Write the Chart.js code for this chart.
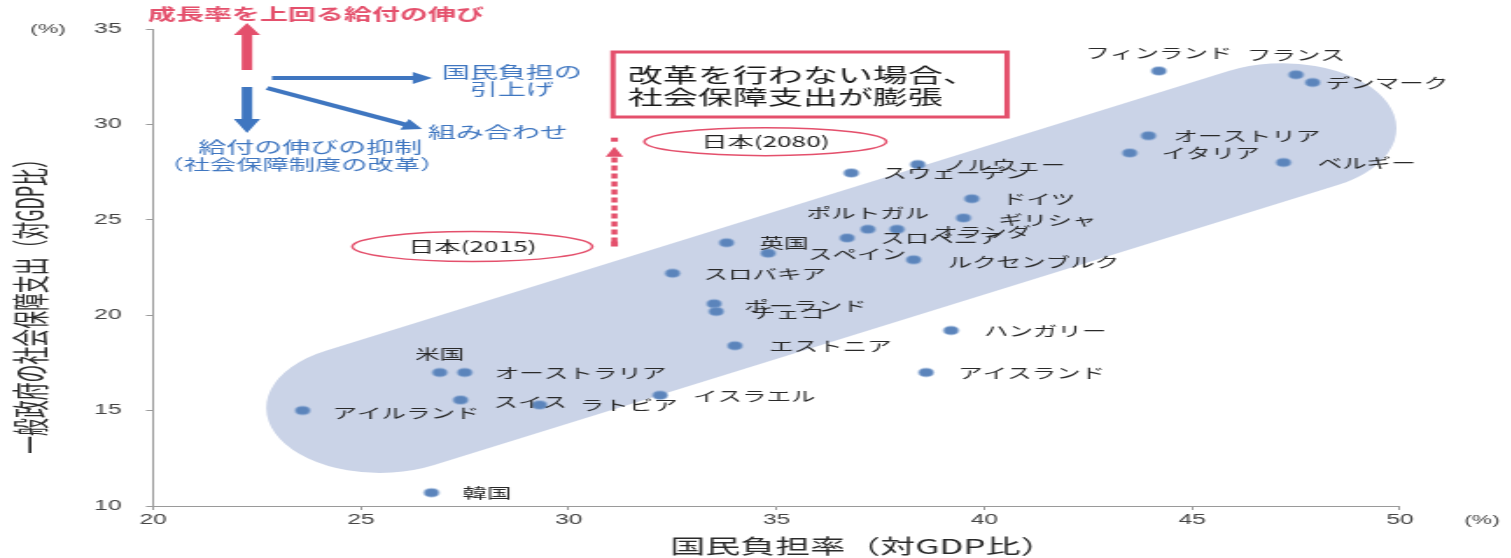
<!DOCTYPE html>
<html lang="ja">

<head>
    <meta charset="UTF-8">
    <title>国民負担率と社会保障支出</title>
    <script src="https://cdn.jsdelivr.net/npm/chart.js@4.4.0/dist/chart.umd.min.js"></script>
</head>

<style>
    body {
        margin: 0;
        background: #fff;
        overflow: hidden;
    }

    #contenedor {
        height: 558px;
        transform-origin: 0 0;
    }
</style>

<body>
    <div id="contenedor"><canvas id="grafico"></canvas></div>

    <script>
// Datos (x: 国民負担率, y: 社会保障支出, 対GDP比 %)
const paises = ['フィンランド', 'フランス', 'デンマーク', 'オーストリア', 'イタリア', 'ベルギー',
    'ノルウェー', 'スウェーデン', 'ドイツ', 'ギリシャ', 'オランダ', 'ポルトガル', 'スロベニア',
    '英国', 'スペイン', 'ルクセンブルク', 'スロバキア', 'ポーランド', 'チェコ', 'エストニア',
    'ハンガリー', 'アイスランド', 'イスラエル', 'ラトビア', 'スイス', 'オーストラリア', '米国',
    'アイルランド', '韓国'];
const cargaNacional = [44.2, 47.5, 47.9, 43.95, 43.5, 47.2, 38.4, 36.8, 39.7, 39.5, 37.9, 37.2, 36.7,
    33.8, 34.8, 38.3, 32.5, 33.5, 33.55, 34.0, 39.2, 38.6, 32.2, 29.3, 27.4, 27.5, 26.9, 23.6, 26.7];
const gastoSocial = [32.8, 32.6, 32.2, 29.4, 28.5, 28.0, 27.9, 27.45, 26.1, 25.1, 24.5, 24.5, 24.05,
    23.8, 23.25, 22.9, 22.2, 20.6, 20.2, 18.4, 19.2, 17.0, 15.8, 15.3, 15.55, 17.0, 17.0, 15.0, 10.7];
const ticksX = [20, 25, 30, 35, 40, 45, 50];
const ticksY = [10, 15, 20, 25, 30, 35];
const japonCarga = 31.1;
const japonGasto = [23.6, 29.2]; // 2015, 2080
const bandaCentros = [[25.46, 15.14], [47.18, 29.8]];

// La imagen original esta estirada en horizontal
const ESTIRAR = 1.75;
const ANCHO = 1511 / ESTIRAR;
const sx = v => v / ESTIRAR;
const RADIO_BANDA = 65;
const FUENTE = '"Noto Sans CJK JP", sans-serif';
const ROJO = '#e4506c';
const AZUL = '#3f76c0';

// desplazamiento de cada etiqueta [dx, dy, alineacion]
const posEtiquetas = [[0, -18, 'center'], [0, -20, 'center'], [13, 0], [25, 0], [32, 0], [34, 0],
    [25, 0], [31, 0], [30, 0], [35, 2], [36, 2], [0, -17, 'center'], [33, 0],
    [33, 0], [40, 0], [34, 2], [31, 0], [30, 2], [35, 1], [34, 0],
    [33, 0], [32, 0], [33, 0], [40, 0], [33, 2], [30, 0], [0, -19, 'center'], [30, 2], [31, 0]];

const contenedor = document.getElementById('contenedor');
contenedor.style.width = ANCHO + 'px';
contenedor.style.transform = `scaleX(${ESTIRAR})`;

function flecha(ctx, x1, y1, x2, y2, ancho, largoCabeza, anchoCabeza, color) {
    const len = Math.hypot(x2 - x1, y2 - y1);
    const ux = (x2 - x1) / len, uy = (y2 - y1) / len;
    const nx = -uy, ny = ux;
    const bx = x2 - ux * largoCabeza, by = y2 - uy * largoCabeza;
    ctx.fillStyle = color;
    ctx.beginPath();
    ctx.moveTo(x1 + nx * ancho / 2, y1 + ny * ancho / 2);
    ctx.lineTo(bx + nx * ancho / 2, by + ny * ancho / 2);
    ctx.lineTo(bx + nx * anchoCabeza / 2, by + ny * anchoCabeza / 2);
    ctx.lineTo(x2, y2);
    ctx.lineTo(bx - nx * anchoCabeza / 2, by - ny * anchoCabeza / 2);
    ctx.lineTo(bx - nx * ancho / 2, by - ny * ancho / 2);
    ctx.lineTo(x1 - nx * ancho / 2, y1 - ny * ancho / 2);
    ctx.closePath();
    ctx.fill();
}

function texto(ctx, t, x, y, fuente, color, alinear) {
    ctx.font = fuente;
    ctx.fillStyle = color;
    ctx.textAlign = alinear || 'left';
    ctx.textBaseline = 'middle';
    ctx.fillText(t, x, y);
}

const anotaciones = {
    id: 'anotaciones',
    beforeDatasetsDraw(chart) {
        const { ctx } = chart;
        const { x, y } = chart.scales;
        const [c1, c2] = bandaCentros.map(([a, b]) => [x.getPixelForValue(a), y.getPixelForValue(b)]);
        const ang = Math.atan2(c2[1] - c1[1], c2[0] - c1[0]);
        ctx.save();
        ctx.fillStyle = '#cad3e7';
        ctx.beginPath();
        ctx.arc(c1[0], c1[1], RADIO_BANDA, ang + Math.PI / 2, ang + 3 * Math.PI / 2);
        ctx.arc(c2[0], c2[1], RADIO_BANDA, ang - Math.PI / 2, ang + Math.PI / 2);
        ctx.closePath();
        ctx.fill();
        ctx.restore();
    },
    afterDatasetsDraw(chart) {
        const { ctx } = chart;
        const { x, y } = chart.scales;
        ctx.save();

        // nombres de los paises
        paises.forEach((p, i) => {
            const [dx, dy, al] = posEtiquetas[i];
            texto(ctx, p, x.getPixelForValue(cargaNacional[i]) + sx(dx),
                y.getPixelForValue(gastoSocial[i]) + dy, '14px ' + FUENTE, '#2a2a2a', al);
        });

        // Japon 2015 -> 2080
        const xj = x.getPixelForValue(japonCarga);
        const yIni = y.getPixelForValue(japonGasto[0]);
        const yFin = y.getPixelForValue(japonGasto[1]);
        ctx.strokeStyle = ROJO;
        ctx.lineWidth = 3.5;
        ctx.setLineDash([5, 3]);
        ctx.beginPath();
        ctx.moveTo(xj, yIni - 4);
        ctx.lineTo(xj, yFin + 17);
        ctx.stroke();
        ctx.setLineDash([]);
        ctx.fillStyle = ROJO;
        ctx.fillRect(xj - 2, yIni - 5, 4, 5);
        ctx.beginPath();
        ctx.moveTo(xj - 5, yFin + 17);
        ctx.lineTo(xj + 5, yFin + 17);
        ctx.lineTo(xj, yFin + 7);
        ctx.closePath();
        ctx.fill();
        ctx.fillRect(xj - 2, yFin - 2, 4, 4);

        ctx.lineWidth = 1.5;
        ctx.beginPath();
        ctx.ellipse(xj + sx(151), yFin + 2, sx(121), 14, 0, 0, 2 * Math.PI);
        ctx.stroke();
        texto(ctx, '日本(2080)', xj + sx(151), yFin + 2, '15px ' + FUENTE, '#222', 'center');
        ctx.beginPath();
        ctx.ellipse(xj - sx(142), yIni, sx(120), 15, 0, 0, 2 * Math.PI);
        ctx.stroke();
        texto(ctx, '日本(2015)', xj - sx(142), yIni, '15px ' + FUENTE, '#222', 'center');

        // recuadro
        ctx.lineWidth = 3;
        ctx.strokeRect(sx(613), 52, sx(1007 - 613), 65);
        texto(ctx, '改革を行わない場合、', sx(628), 75, '20px ' + FUENTE, '#1a1a1a');
        texto(ctx, '社会保障支出が膨張', sx(628), 97, '20px ' + FUENTE, '#1a1a1a');

        // esquema de flechas
        flecha(ctx, sx(247), 70, sx(247), 23, 6, 12, 15, ROJO);
        flecha(ctx, sx(247), 87, sx(247), 133, 6, 14, 15, AZUL);
        flecha(ctx, sx(272), 78, sx(432), 78, 4, 11, 12, AZUL);
        flecha(ctx, sx(267), 88, sx(422), 129, 4, 11, 12, AZUL);
        texto(ctx, '成長率を上回る給付の伸び', sx(148), 14, 'bold 16px ' + FUENTE, ROJO);
        texto(ctx, '国民負担の', sx(512), 72, '16px ' + FUENTE, AZUL, 'center');
        texto(ctx, '引上げ', sx(512), 89, '16px ' + FUENTE, AZUL, 'center');
        texto(ctx, '組み合わせ', sx(428), 132, '16px ' + FUENTE, AZUL);
        texto(ctx, '給付の伸びの抑制', sx(310), 147, '16px ' + FUENTE, AZUL, 'center');
        texto(ctx, '（社会保障制度の改革）', sx(302), 164, '15px ' + FUENTE, AZUL, 'center');

        // unidades y titulos de ejes
        texto(ctx, '(%)', sx(48), 29, '13px "Liberation Sans", sans-serif', '#444', 'center');
        texto(ctx, '(%)', sx(1482), 520, '13px "Liberation Sans", sans-serif', '#444', 'center');
        texto(ctx, '国民負担率（対GDP比）', sx(863), 546, '20px ' + FUENTE, '#2a2a2a', 'center');
        ctx.translate(sx(30), 302);
        ctx.rotate(-Math.PI / 2);
        ctx.scale(0.85, 1);
        texto(ctx, '一般政府の社会保障支出（対GDP比）', 0, 0, '21px ' + FUENTE, '#2a2a2a', 'center');
        ctx.restore();
    }
};

const fuenteTicks = { family: '"Liberation Sans", sans-serif', size: 14 };

new Chart(document.getElementById('grafico'), {
    type: 'scatter',
    data: {
        datasets: [{
            data: cargaNacional.map((v, i) => ({ x: v, y: gastoSocial[i] })),
            backgroundColor: '#5b84bb',
            borderColor: 'rgba(120, 155, 205, 0.45)',
            borderWidth: 2,
            pointRadius: 4
        }]
    },
    options: {
        responsive: true,
        maintainAspectRatio: false,
        animation: false,
        layout: { padding: { top: 29, right: ANCHO - sx(1400), left: 0, bottom: 0 } },
        plugins: { legend: { display: false }, tooltip: { enabled: false } },
        scales: {
            x: {
                type: 'linear',
                min: 20,
                max: 50,
                afterBuildTicks: s => { s.ticks = ticksX.map(v => ({ value: v })); },
                afterFit: s => { s.height = 52; },
                border: { color: '#9a9a9a', width: 1 },
                grid: { drawOnChartArea: false, tickLength: 4, color: '#9a9a9a' },
                ticks: { color: '#444', font: fuenteTicks, padding: 2 }
            },
            y: {
                min: 10,
                max: 35,
                afterBuildTicks: s => { s.ticks = ticksY.map(v => ({ value: v })); },
                afterFit: s => { s.width = sx(153); },
                border: { color: '#9a9a9a', width: 1 },
                grid: { drawOnChartArea: false, tickLength: 4, color: '#9a9a9a' },
                ticks: { color: '#444', font: fuenteTicks, padding: 14 }
            }
        }
    },
    plugins: [anotaciones]
});
    </script>
</body>

</html>
